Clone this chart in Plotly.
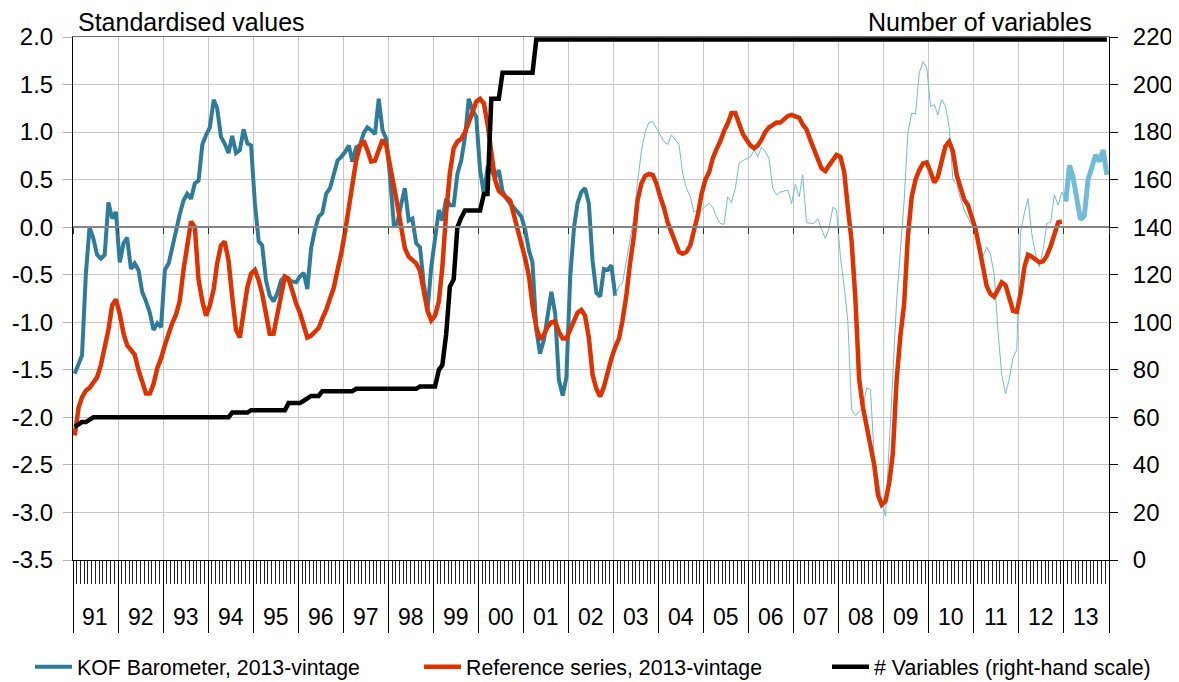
import plotly.graph_objects as go

# ---------------- data (monthly, Jan 1991 onwards) ----------------
kof = [
    -1.54, -1.45, -1.35, -0.50, 0.00, -0.12, -0.29, -0.33, -0.29, 0.26, 0.09, 0.16,   # 1991
    -0.37, -0.17, -0.11, -0.44, -0.38, -0.45, -0.68, -0.78, -0.90, -1.08, -1.01, -1.05,  # 1992
    -0.45, -0.38, -0.21, -0.05, 0.13, 0.28, 0.35, 0.30, 0.46, 0.49, 0.87, 0.97,      # 1993
    1.05, 1.34, 1.25, 0.95, 0.88, 0.78, 0.96, 0.78, 0.81, 1.03, 0.88, 0.86,          # 1994
    0.25, -0.15, -0.19, -0.56, -0.72, -0.78, -0.70, -0.56, -0.52, -0.56, -0.57, -0.58,  # 1995
    -0.52, -0.48, -0.65, -0.22, -0.03, 0.11, 0.15, 0.35, 0.41, 0.56, 0.70, 0.74,     # 1996
    0.79, 0.86, 0.69, 0.84, 0.86, 0.99, 1.05, 1.02, 0.98, 1.35, 1.02, 0.93,          # 1997
    0.53, 0.02, 0.04, 0.24, 0.41, 0.07, 0.09, -0.17, -0.21, -0.59, -0.87, -0.42,     # 1998
    -0.14, 0.18, 0.07, 0.30, 0.23, 0.23, 0.56, 0.70, 0.95, 1.35, 1.23, 1.16,         # 1999
    0.60, 0.35, 0.62, 0.60, 0.52, 0.60, 0.38, 0.30, 0.25, 0.21, 0.16, 0.11,          # 2000
    -0.03, -0.25, -0.37, -1.08, -1.33, -1.19, -0.95, -0.68, -0.91, -1.61, -1.77, -1.58,  # 2001
    -0.52, 0.00, 0.25, 0.37, 0.41, 0.25, -0.35, -0.69, -0.73, -0.44, -0.45, -0.40,   # 2002
    -0.72, -0.62, -0.59, -0.35, -0.15, 0.10, 0.47, 0.80, 1.00, 1.10, 1.11, 1.04,     # 2003
    0.97, 0.90, 0.87, 0.97, 0.92, 0.87, 0.56, 0.41, 0.32, 0.16, 0.18, 0.18,          # 2004
    0.22, 0.25, 0.21, 0.11, 0.04, 0.03, 0.32, 0.26, 0.41, 0.67, 0.70, 0.72,          # 2005
    0.74, 0.81, 0.74, 0.84, 0.80, 0.72, 0.41, 0.34, 0.37, 0.38, 0.39, 0.25,          # 2006
    0.45, 0.32, 0.55, 0.05, 0.04, 0.04, 0.09, -0.02, -0.12, -0.01, 0.21, 0.18,       # 2007
    -0.31, -0.63, -0.98, -1.92, -1.98, -1.94, -1.90, -1.69, -1.71, -2.42, -2.65, -2.87,  # 2008
    -3.04, -2.33, -1.56, -0.77, -0.25, 0.28, 0.99, 1.20, 1.19, 1.62, 1.74, 1.68,     # 2009
    1.27, 1.29, 1.18, 1.34, 1.28, 1.05, 0.50, 0.45, 0.30, 0.18, 0.10, 0.02,          # 2010
    0.00, -0.15, -0.31, -0.21, -0.28, -0.50, -1.08, -1.55, -1.75, -1.60, -1.37, -1.29,  # 2011
    -0.05, 0.15, 0.30, -0.07, -0.28, -0.42, -0.24, 0.04, 0.05, 0.34, 0.23, 0.37,     # 2012
    0.27, 0.65, 0.53, 0.28, 0.08, 0.12, 0.50, 0.63, 0.76, 0.69, 0.81, 0.55,          # 2013
]

ref = [
    -2.19, -1.90, -1.79, -1.72, -1.69, -1.64, -1.58, -1.45, -1.28, -1.08, -0.82, -0.76,  # 1991
    -0.91, -1.12, -1.24, -1.29, -1.34, -1.50, -1.61, -1.75, -1.75, -1.65, -1.48, -1.38,  # 1992
    -1.24, -1.10, -1.01, -0.92, -0.78, -0.45, -0.20, 0.06, 0.00, -0.55, -0.78, -0.93,    # 1993
    -0.82, -0.65, -0.38, -0.19, -0.15, -0.35, -0.73, -1.08, -1.16, -0.90, -0.63, -0.49,  # 1994
    -0.45, -0.56, -0.70, -0.91, -1.12, -1.12, -0.91, -0.70, -0.52, -0.54, -0.68, -0.80,  # 1995
    -0.90, -1.05, -1.16, -1.14, -1.10, -1.06, -0.96, -0.87, -0.75, -0.64, -0.45, -0.28,  # 1996
    -0.05, 0.22, 0.49, 0.70, 0.85, 0.91, 0.81, 0.69, 0.70, 0.81, 0.92, 0.86,             # 1997
    0.65, 0.47, 0.24, 0.00, -0.22, -0.31, -0.35, -0.38, -0.46, -0.68, -0.88, -0.98,      # 1998
    -0.93, -0.78, -0.42, 0.15, 0.57, 0.83, 0.90, 0.93, 1.00, 1.10, 1.22, 1.32,           # 1999
    1.35, 1.30, 1.09, 0.78, 0.50, 0.38, 0.35, 0.32, 0.28, 0.13, -0.02, -0.20,            # 2000
    -0.33, -0.52, -0.82, -1.05, -1.18, -1.13, -1.05, -1.00, -0.99, -1.10, -1.17, -1.17,  # 2001
    -1.08, -0.98, -0.90, -0.87, -0.93, -1.16, -1.55, -1.70, -1.78, -1.68, -1.52, -1.38,  # 2002
    -1.26, -1.17, -0.98, -0.72, -0.38, -0.10, 0.28, 0.46, 0.54, 0.56, 0.55, 0.46,        # 2003
    0.32, 0.20, 0.05, -0.05, -0.17, -0.26, -0.28, -0.26, -0.19, -0.05, 0.13, 0.35,       # 2004
    0.50, 0.58, 0.72, 0.82, 0.90, 1.01, 1.09, 1.20, 1.20, 1.09, 0.98, 0.92,              # 2005
    0.86, 0.83, 0.86, 0.92, 1.00, 1.05, 1.07, 1.10, 1.10, 1.14, 1.17, 1.18,              # 2006
    1.17, 1.15, 1.08, 1.03, 0.92, 0.80, 0.72, 0.62, 0.59, 0.65, 0.70, 0.76,              # 2007
    0.74, 0.58, 0.21, -0.15, -0.74, -1.60, -1.89, -2.10, -2.30, -2.50, -2.82, -2.92,     # 2008
    -2.88, -2.68, -2.38, -1.60, -1.15, -0.80, -0.10, 0.32, 0.50, 0.60, 0.67, 0.68,       # 2009
    0.58, 0.47, 0.53, 0.72, 0.85, 0.90, 0.80, 0.55, 0.40, 0.29, 0.23, 0.12,              # 2010
    -0.02, -0.22, -0.40, -0.62, -0.70, -0.73, -0.66, -0.58, -0.61, -0.74, -0.88, -0.89,  # 2011
    -0.70, -0.42, -0.29, -0.31, -0.34, -0.37, -0.36, -0.30, -0.20, -0.09, 0.05, 0.06,    # 2012
]

nvars = [
    56, 57, 58, 58, 59, 60, 60, 60, 60, 60, 60, 60,              # 1991
    60, 60, 60, 60, 60, 60, 60, 60, 60, 60, 60, 60,              # 1992
    60, 60, 60, 60, 60, 60, 60, 60, 60, 60, 60, 60,              # 1993
    60, 60, 60, 60, 60, 60, 62, 62, 62, 62, 62, 63,              # 1994
    63, 63, 63, 63, 63, 63, 63, 63, 63, 66, 66, 66,              # 1995
    66, 67, 68, 69, 69, 69, 71, 71, 71, 71, 71, 71,              # 1996
    71, 71, 71, 72, 72, 72, 72, 72, 72, 72, 72, 72,              # 1997
    72, 72, 72, 72, 72, 72, 72, 72, 73, 73, 73, 73,              # 1998
    73, 80, 82, 95, 115, 118, 140, 144, 147, 147, 147, 147,      # 1999
    147, 154, 154, 194, 194, 194, 205, 205, 205, 205, 205, 205,  # 2000
    205, 205, 205, 219, 219, 219, 219, 219, 219, 219, 219, 219,  # 2001
    219, 219, 219, 219, 219, 219, 219, 219, 219, 219, 219, 219,  # 2002
    219, 219, 219, 219, 219, 219, 219, 219, 219, 219, 219, 219,  # 2003
    219, 219, 219, 219, 219, 219, 219, 219, 219, 219, 219, 219,  # 2004
    219, 219, 219, 219, 219, 219, 219, 219, 219, 219, 219, 219,  # 2005
    219, 219, 219, 219, 219, 219, 219, 219, 219, 219, 219, 219,  # 2006
    219, 219, 219, 219, 219, 219, 219, 219, 219, 219, 219, 219,  # 2007
    219, 219, 219, 219, 219, 219, 219, 219, 219, 219, 219, 219,  # 2008
    219, 219, 219, 219, 219, 219, 219, 219, 219, 219, 219, 219,  # 2009
    219, 219, 219, 219, 219, 219, 219, 219, 219, 219, 219, 219,  # 2010
    219, 219, 219, 219, 219, 219, 219, 219, 219, 219, 219, 219,  # 2011
    219, 219, 219, 219, 219, 219, 219, 219, 219, 219, 219, 219,  # 2012
    219, 219, 219, 219, 219, 219, 219, 219, 219, 219, 219, 219,  # 2013
]

years = list(range(1991, 2014))
year_labels = [f"{y % 100:02d}" for y in years]
left_tickvals = [-3.5, -3.0, -2.5, -2.0, -1.5, -1.0, -0.5, 0.0, 0.5, 1.0, 1.5, 2.0]
left_ticktext = ["-3.5", "-3.0", "-2.5", "-2.0", "-1.5", "-1.0", "-0.5", "0.0", "0.5", "1.0", "1.5", "2.0"]
right_tickvals = [0, 20, 40, 60, 80, 100, 120, 140, 160, 180, 200, 220]

# ---------------- derived x values ----------------
months = [f"{1991 + i // 12}-{i % 12 + 1:02d}-15" for i in range(len(kof))]
year_starts = [f"{y}-01-01" for y in years] + ["2014-01-01"]
year_mids = [f"{y}-07-02" for y in years]
x_range = ["1991-01-01", "2014-01-01"]

DARK_END = 144   # last month of dark KOF segment
THIN_END = 264   # start of thick light segment

C_DARK = "#2f7b9a"
C_LIGHT = "#72bbd8"
C_RED = "#dd3300"
FONT = "Liberation Sans, Arial, sans-serif"

fig = go.Figure()
fig.add_trace(go.Scatter(x=months[:DARK_END + 1], y=kof[:DARK_END + 1], mode="lines",
                         line=dict(color=C_DARK, width=4), name="KOF Barometer, 2013-vintage",
                         legend="legend"))
fig.add_trace(go.Scatter(x=months[DARK_END:THIN_END + 1], y=kof[DARK_END:THIN_END + 1], mode="lines",
                         line=dict(color=C_LIGHT, width=1), showlegend=False))
fig.add_trace(go.Scatter(x=months[THIN_END:], y=kof[THIN_END:], mode="lines",
                         line=dict(color=C_LIGHT, width=5), showlegend=False))
fig.add_trace(go.Scatter(x=months[:len(ref)], y=ref, mode="lines",
                         line=dict(color=C_RED, width=4.5), name="Reference series, 2013-vintage",
                         legend="legend2"))
fig.add_trace(go.Scatter(x=months, y=nvars, mode="lines", yaxis="y2",
                         line=dict(color="black", width=4.5), name="# Variables (right-hand scale)",
                         legend="legend3"))
# helper traces so the decorative overlay axes get drawn
fig.add_trace(go.Scatter(x=[months[0]], y=[None], xaxis="x2", showlegend=False, hoverinfo="skip"))
fig.add_trace(go.Scatter(x=[months[0]], y=[None], xaxis="x3", showlegend=False, hoverinfo="skip"))

annotations = [
    dict(text="Standardised values", xref="paper", yref="paper", x=0.003, y=1.029,
         xanchor="left", yanchor="middle", showarrow=False, font=dict(size=25, color="black")),
    dict(text="Number of variables", xref="paper", yref="paper", x=0.986, y=1.029,
         xanchor="right", yanchor="middle", showarrow=False, font=dict(size=25, color="black")),
]
for xm, lab in zip(year_mids, year_labels):
    annotations.append(dict(text=lab, x=xm, xref="x", yref="paper", y=-0.109,
                            xanchor="center", yanchor="middle", showarrow=False,
                            font=dict(size=23, color="black")))


def legend_box(xc):
    return dict(orientation="h", xref="container", yref="container",
                x=xc, xanchor="left", y=0.0223, yanchor="middle",
                font=dict(size=21.3, color="black"), itemwidth=37, bgcolor="rgba(0,0,0,0)")


W, H = 1171, 674   # page body adds an 8px offset
fig.update_layout(
    width=W, height=H,
    margin=dict(l=65, r=70, t=29, b=122, autoexpand=False),
    paper_bgcolor="white", plot_bgcolor="white",
    font=dict(family=FONT, color="black", size=23),
    showlegend=True,
    legend=legend_box(0.0188),
    legend2=legend_box(0.3510),
    legend3=legend_box(0.6994),
    annotations=annotations,
    xaxis=dict(type="date", range=x_range, tickmode="array", tickvals=year_starts, automargin=False,
               showticklabels=False, ticks="outside", ticklen=72, tickwidth=1, tickcolor="black",
               showgrid=True, gridcolor="#c8c8c8", gridwidth=1,
               showline=True, linecolor="black", linewidth=1, zeroline=False,
               minor=dict(dtick="M1", tick0="1991-01-01", ticks="outside", ticklen=23,
                          tickwidth=1, tickcolor="#222222", showgrid=False)),
    xaxis2=dict(type="date", range=x_range, overlaying="x", anchor="free", position=3.5 / 5.5,
                tickmode="array", tickvals=year_starts, ticks="outside", ticklen=6, tickwidth=1,
                tickcolor="#333333", showticklabels=False, showgrid=False, zeroline=False,
                showline=True, linecolor="#858585", linewidth=1.5, automargin=False),
    xaxis3=dict(type="date", range=x_range, overlaying="x", side="top", anchor="y",
                ticks="", showticklabels=False, showgrid=False, zeroline=False, automargin=False,
                showline=True, linecolor="#707070", linewidth=1),
    yaxis=dict(range=[-3.5, 2.0], tickmode="array", tickvals=left_tickvals, ticktext=left_ticktext,
               ticks="outside", ticklen=9, tickcolor="#b4b4b4", tickwidth=1, automargin=False,
               showgrid=True, gridcolor="#c8c8c8", gridwidth=1, zeroline=False,
               showline=True, linecolor="black", linewidth=1,
               tickfont=dict(size=24), ticklabelstandoff=5),
    yaxis2=dict(range=[0, 220], overlaying="y", side="right", anchor="x", automargin=False,
                tickmode="array", tickvals=right_tickvals,
                ticks="outside", ticklen=8, tickcolor="black", tickwidth=1,
                showgrid=False, zeroline=False, showline=True, linecolor="black", linewidth=1,
                tickfont=dict(size=24), ticklabelstandoff=10),
)

fig.write_html("out.html")
